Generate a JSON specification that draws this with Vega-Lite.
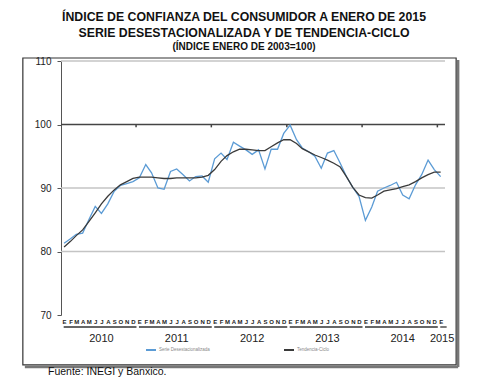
{
  "$schema": "https://vega.github.io/schema/vega-lite/v6.json",
  "width": 384,
  "height": 254,
  "autosize": "none",
  "padding": {"left": 61, "top": 61, "right": 35, "bottom": 70},
  "background": "white",
  "title": {
    "text": ["ÍNDICE DE CONFIANZA DEL CONSUMIDOR A ENERO DE 2015", "SERIE DESESTACIONALIZADA Y DE TENDENCIA-CICLO"],
    "subtitle": "(ÍNDICE ENERO DE 2003=100)",
    "anchor": "middle",
    "frame": "group",
    "dx": -9,
    "offset": 4,
    "font": "Liberation Sans",
    "fontSize": 12.3,
    "fontWeight": "bold",
    "lineHeight": 16,
    "color": "#111",
    "subtitleFont": "Liberation Sans",
    "subtitleFontSize": 10,
    "subtitleFontWeight": "bold",
    "subtitleColor": "#111",
    "subtitlePadding": 3
  },
  "config": {"view": {"stroke": null}, "font": "Liberation Sans"},
  "layer": [
    {
      "data": {"values": [{"f": 1}]},
      "mark": {"type": "rule", "stroke": "#777", "strokeWidth": 2.5, "xOffset": 2, "yOffset": 2, "y2Offset": 2, "clip": false},
      "encoding": {
        "x": {"datum": {"year": 2015, "month": 3, "date": 17}, "type": "temporal"},
        "y": {"datum": 110.47, "type": "quantitative"},
        "y2": {"datum": 62.13}
      }
    },
    {
      "data": {"values": [{"f": 1}]},
      "mark": {"type": "rule", "stroke": "#777", "strokeWidth": 2.5, "xOffset": 2, "x2Offset": 2, "yOffset": 2, "clip": false},
      "encoding": {
        "x": {"datum": {"year": 2009, "month": 6, "date": 15}, "type": "temporal"},
        "x2": {"datum": {"year": 2015, "month": 3, "date": 17}},
        "y": {"datum": 62.13, "type": "quantitative"}
      }
    },
    {
      "data": {"values": [{"f": 1}]},
      "mark": {"type": "rect", "fillOpacity": 0, "stroke": "#333", "strokeWidth": 1.2, "clip": false},
      "encoding": {
        "x": {"datum": {"year": 2009, "month": 6, "date": 15}, "type": "temporal"},
        "x2": {"datum": {"year": 2015, "month": 3, "date": 17}},
        "y": {"datum": 110.47, "type": "quantitative"},
        "y2": {"datum": 62.13}
      }
    },
    {
      "data": {"values": [{"g": 110}, {"g": 90}, {"g": 80}]},
      "mark": {"type": "rule", "stroke": "#c4c4c4", "strokeWidth": 1.3},
      "encoding": {
        "y": {"field": "g", "type": "quantitative", "title": null}
      }
    },
    {
      "data": {"values": [{"f": 1}]},
      "mark": {"type": "rule", "stroke": "#444", "strokeWidth": 1.5},
      "encoding": {
        "y": {"datum": 100, "type": "quantitative"}
      }
    },
    {
      "data": {
        "values": [
          {"s": "2009-12-30", "e": "2010-12-18"},
          {"s": "2010-12-30", "e": "2011-12-18"},
          {"s": "2011-12-30", "e": "2012-12-18"},
          {"s": "2012-12-30", "e": "2013-12-18"},
          {"s": "2013-12-30", "e": "2014-12-18"},
          {"s": "2014-12-30", "e": "2015-01-30"}
        ],
        "format": {"parse": {"s": "date:'%Y-%m-%d'", "e": "date:'%Y-%m-%d'"}}
      },
      "mark": {"type": "rule", "stroke": "#333", "strokeWidth": 1.3, "yOffset": 12, "clip": false},
      "encoding": {
        "x": {"field": "s", "type": "temporal", "title": null},
        "x2": {"field": "e"},
        "y": {"datum": 70, "type": "quantitative"}
      }
    },
    {
      "data": {
        "values": [
          {"t": "2010", "d": "2010-07-01"},
          {"t": "2011", "d": "2011-07-01"},
          {"t": "2012", "d": "2012-07-01"},
          {"t": "2013", "d": "2013-07-01"},
          {"t": "2014", "d": "2014-07-01"},
          {"t": "2015", "d": "2015-01-08"}
        ],
        "format": {"parse": {"d": "date:'%Y-%m-%d'"}}
      },
      "mark": {"type": "text", "fontSize": 11, "color": "#222", "baseline": "middle", "dy": 24, "clip": false},
      "encoding": {
        "x": {"field": "d", "type": "temporal", "title": null},
        "y": {"datum": 70, "type": "quantitative"},
        "text": {"field": "t"}
      }
    },
    {
      "data": {"values": [{"t": "Fuente: INEGI y Banxico."}]},
      "mark": {"type": "text", "fontSize": 10.5, "color": "#111", "align": "left", "baseline": "middle", "clip": false},
      "encoding": {
        "x": {"datum": {"year": 2009, "month": 10, "date": 15}, "type": "temporal"},
        "y": {"datum": 61.0, "type": "quantitative"},
        "text": {"field": "t"}
      }
    },
    {
      "data": {
        "values": [
          {"d": "2010-12-16"}, {"d": "2011-12-16"}, {"d": "2012-12-16"}, {"d": "2013-12-16"}, {"d": "2014-12-16"}
        ],
        "format": {"parse": {"d": "date:'%Y-%m-%d'"}}
      },
      "mark": {"type": "rule", "stroke": "#444", "strokeWidth": 1.5},
      "encoding": {
        "x": {"field": "d", "type": "temporal", "title": null},
        "y": {"datum": 100, "type": "quantitative"},
        "y2": {"datum": 99.55}
      }
    },
    {
      "data": {
        "values": [
          {"d": "2010-01-01", "Serie Desestacionalizada": 81.3, "Tendencia-Ciclo": 80.7},
          {"d": "2010-02-01", "Serie Desestacionalizada": 82.0, "Tendencia-Ciclo": 81.6},
          {"d": "2010-03-01", "Serie Desestacionalizada": 82.7, "Tendencia-Ciclo": 82.5},
          {"d": "2010-04-01", "Serie Desestacionalizada": 82.9, "Tendencia-Ciclo": 83.4},
          {"d": "2010-05-01", "Serie Desestacionalizada": 85.0, "Tendencia-Ciclo": 84.7},
          {"d": "2010-06-01", "Serie Desestacionalizada": 87.1, "Tendencia-Ciclo": 86.1},
          {"d": "2010-07-01", "Serie Desestacionalizada": 86.0, "Tendencia-Ciclo": 87.5},
          {"d": "2010-08-01", "Serie Desestacionalizada": 87.5, "Tendencia-Ciclo": 88.7},
          {"d": "2010-09-01", "Serie Desestacionalizada": 89.5, "Tendencia-Ciclo": 89.7},
          {"d": "2010-10-01", "Serie Desestacionalizada": 90.4, "Tendencia-Ciclo": 90.5},
          {"d": "2010-11-01", "Serie Desestacionalizada": 90.7, "Tendencia-Ciclo": 91.0},
          {"d": "2010-12-01", "Serie Desestacionalizada": 91.0, "Tendencia-Ciclo": 91.5},
          {"d": "2011-01-01", "Serie Desestacionalizada": 91.6, "Tendencia-Ciclo": 91.7},
          {"d": "2011-02-01", "Serie Desestacionalizada": 93.7, "Tendencia-Ciclo": 91.7},
          {"d": "2011-03-01", "Serie Desestacionalizada": 92.4, "Tendencia-Ciclo": 91.7},
          {"d": "2011-04-01", "Serie Desestacionalizada": 90.0, "Tendencia-Ciclo": 91.6},
          {"d": "2011-05-01", "Serie Desestacionalizada": 89.8, "Tendencia-Ciclo": 91.5},
          {"d": "2011-06-01", "Serie Desestacionalizada": 92.6, "Tendencia-Ciclo": 91.5},
          {"d": "2011-07-01", "Serie Desestacionalizada": 93.0, "Tendencia-Ciclo": 91.6},
          {"d": "2011-08-01", "Serie Desestacionalizada": 92.1, "Tendencia-Ciclo": 91.6},
          {"d": "2011-09-01", "Serie Desestacionalizada": 91.1, "Tendencia-Ciclo": 91.6},
          {"d": "2011-10-01", "Serie Desestacionalizada": 91.8, "Tendencia-Ciclo": 91.6},
          {"d": "2011-11-01", "Serie Desestacionalizada": 91.9, "Tendencia-Ciclo": 91.7},
          {"d": "2011-12-01", "Serie Desestacionalizada": 90.9, "Tendencia-Ciclo": 92.0},
          {"d": "2012-01-01", "Serie Desestacionalizada": 94.6, "Tendencia-Ciclo": 92.9},
          {"d": "2012-02-01", "Serie Desestacionalizada": 95.5, "Tendencia-Ciclo": 94.2},
          {"d": "2012-03-01", "Serie Desestacionalizada": 94.5, "Tendencia-Ciclo": 95.1},
          {"d": "2012-04-01", "Serie Desestacionalizada": 97.2, "Tendencia-Ciclo": 95.7},
          {"d": "2012-05-01", "Serie Desestacionalizada": 96.6, "Tendencia-Ciclo": 96.1},
          {"d": "2012-06-01", "Serie Desestacionalizada": 96.0, "Tendencia-Ciclo": 96.1},
          {"d": "2012-07-01", "Serie Desestacionalizada": 95.3, "Tendencia-Ciclo": 96.0},
          {"d": "2012-08-01", "Serie Desestacionalizada": 96.0, "Tendencia-Ciclo": 95.9},
          {"d": "2012-09-01", "Serie Desestacionalizada": 93.0, "Tendencia-Ciclo": 95.9},
          {"d": "2012-10-01", "Serie Desestacionalizada": 96.1, "Tendencia-Ciclo": 96.5},
          {"d": "2012-11-01", "Serie Desestacionalizada": 96.1, "Tendencia-Ciclo": 97.1},
          {"d": "2012-12-01", "Serie Desestacionalizada": 98.6, "Tendencia-Ciclo": 97.6},
          {"d": "2013-01-01", "Serie Desestacionalizada": 99.9, "Tendencia-Ciclo": 97.6},
          {"d": "2013-02-01", "Serie Desestacionalizada": 97.6, "Tendencia-Ciclo": 97.0},
          {"d": "2013-03-01", "Serie Desestacionalizada": 96.3, "Tendencia-Ciclo": 96.2},
          {"d": "2013-04-01", "Serie Desestacionalizada": 95.7, "Tendencia-Ciclo": 95.7},
          {"d": "2013-05-01", "Serie Desestacionalizada": 95.0, "Tendencia-Ciclo": 95.2},
          {"d": "2013-06-01", "Serie Desestacionalizada": 93.1, "Tendencia-Ciclo": 94.8},
          {"d": "2013-07-01", "Serie Desestacionalizada": 95.5, "Tendencia-Ciclo": 94.4},
          {"d": "2013-08-01", "Serie Desestacionalizada": 95.9, "Tendencia-Ciclo": 93.9},
          {"d": "2013-09-01", "Serie Desestacionalizada": 93.9, "Tendencia-Ciclo": 93.3},
          {"d": "2013-10-01", "Serie Desestacionalizada": 91.8, "Tendencia-Ciclo": 91.8},
          {"d": "2013-11-01", "Serie Desestacionalizada": 90.1, "Tendencia-Ciclo": 90.1},
          {"d": "2013-12-01", "Serie Desestacionalizada": 88.7, "Tendencia-Ciclo": 88.9},
          {"d": "2014-01-01", "Serie Desestacionalizada": 84.9, "Tendencia-Ciclo": 88.5},
          {"d": "2014-02-01", "Serie Desestacionalizada": 87.0, "Tendencia-Ciclo": 88.4},
          {"d": "2014-03-01", "Serie Desestacionalizada": 89.5, "Tendencia-Ciclo": 88.9},
          {"d": "2014-04-01", "Serie Desestacionalizada": 90.0, "Tendencia-Ciclo": 89.5},
          {"d": "2014-05-01", "Serie Desestacionalizada": 90.4, "Tendencia-Ciclo": 89.7},
          {"d": "2014-06-01", "Serie Desestacionalizada": 90.9, "Tendencia-Ciclo": 89.9},
          {"d": "2014-07-01", "Serie Desestacionalizada": 88.9, "Tendencia-Ciclo": 90.2},
          {"d": "2014-08-01", "Serie Desestacionalizada": 88.3, "Tendencia-Ciclo": 90.5},
          {"d": "2014-09-01", "Serie Desestacionalizada": 90.5, "Tendencia-Ciclo": 91.0},
          {"d": "2014-10-01", "Serie Desestacionalizada": 92.1, "Tendencia-Ciclo": 91.6},
          {"d": "2014-11-01", "Serie Desestacionalizada": 94.4, "Tendencia-Ciclo": 92.1},
          {"d": "2014-12-01", "Serie Desestacionalizada": 92.9, "Tendencia-Ciclo": 92.5},
          {"d": "2015-01-01", "Serie Desestacionalizada": 91.8, "Tendencia-Ciclo": 92.5}
        ],
        "format": {"parse": {"d": "date:'%Y-%m-%d'"}}
      },
      "transform": [{"fold": ["Serie Desestacionalizada", "Tendencia-Ciclo"], "as": ["serie", "v"]}],
      "mark": {"type": "line", "strokeWidth": 1.3},
      "encoding": {
        "x": {
          "field": "d",
          "type": "temporal",
          "title": null,
          "scale": {"domain": [{"year": 2009, "month": 12, "date": 17}, {"year": 2015, "month": 1, "date": 22}]},
          "axis": {
            "title": null,
            "tickCount": "month",
            "labelExpr": "['E','F','M','A','M','J','J','A','S','O','N','D'][month(datum.value)]",
            "labelFontSize": 6,
            "labelFontWeight": "bold",
            "labelColor": "#222",
            "ticks": false,
            "domain": false,
            "grid": false,
            "labelPadding": 3,
            "labelOverlap": false,
            "labelFlush": false,
            "labelBound": false
          }
        },
        "y": {
          "field": "v",
          "type": "quantitative",
          "title": null,
          "scale": {"domain": [70, 110], "nice": false, "zero": false},
          "axis": {
            "title": null,
            "values": [70, 80, 90, 100, 110],
            "labelFontSize": 10,
            "labelColor": "#222",
            "tickSize": 4,
            "tickColor": "#555",
            "domainColor": "#555",
            "labelPadding": 6,
            "grid": false
          }
        },
        "color": {
          "field": "serie",
          "type": "nominal",
          "scale": {"domain": ["Serie Desestacionalizada", "Tendencia-Ciclo"], "range": ["#5b9bd5", "#3a3a3a"]},
          "legend": {
            "title": null,
            "orient": "none",
            "legendX": 84,
            "legendY": 283,
            "direction": "horizontal",
            "columns": 2,
            "symbolType": "stroke",
            "symbolSize": 100,
            "symbolStrokeWidth": 2,
            "labelFontSize": 4.5,
            "labelColor": "#888",
            "labelOffset": 2,
            "columnPadding": 70
          }
        }
      }
    }
  ]
}
